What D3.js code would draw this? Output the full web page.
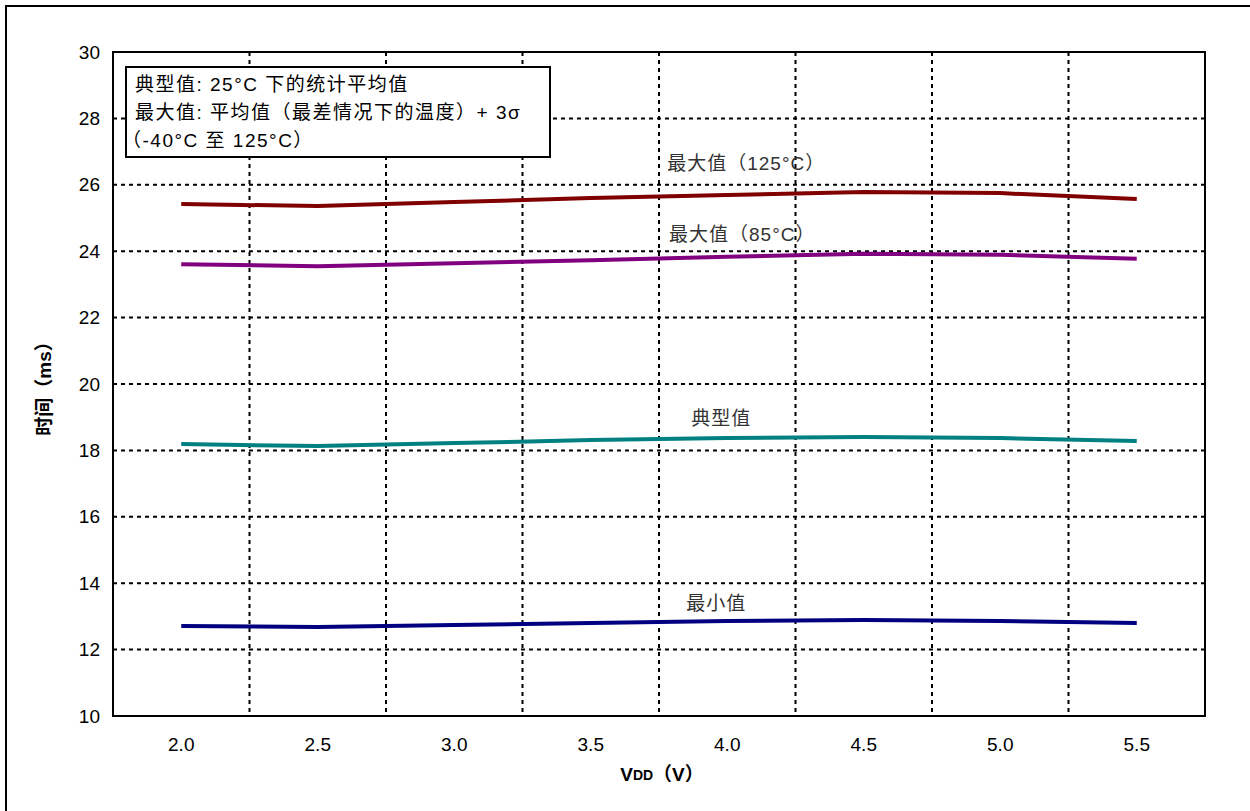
<!DOCTYPE html>
<html><head><meta charset="utf-8">
<script src="https://cdn.jsdelivr.net/npm/d3@7"></script>
<style>
body{margin:0;background:#fff;}
svg{display:block;font-family:"Liberation Sans","Noto Sans CJK SC",sans-serif;}
</style></head>
<body><svg id="c" width="1250" height="811"></svg>
<script>
const categories = ["2.0","2.5","3.0","3.5","4.0","4.5","5.0","5.5"];
const yTicks = [10,12,14,16,18,20,22,24,26,28,30];
const seriesNames = ["最大值（125°C）","最大值（85°C）","典型值","最小值"];
const max125 = [25.42,25.36,25.48,25.60,25.69,25.78,25.75,25.57];
const max85  = [23.61,23.55,23.64,23.73,23.83,23.92,23.89,23.77];
const typical= [18.19,18.13,18.22,18.31,18.37,18.40,18.37,18.28];
const minimum= [12.71,12.68,12.74,12.80,12.86,12.89,12.86,12.80];
const colors = ["#800000","#800080","#008080","#000080"];
const noteLines = ["典型值: 25°C 下的统计平均值","最大值: 平均值（最差情况下的温度）+ 3σ","（-40°C 至 125°C）"];

const svg = d3.select("#c");
const L=113, R=1205, T=52, B=716;
const x = d3.scaleBand().domain(categories).range([L,R]);
const y = d3.scaleLinear().domain([10,30]).range([B,T]);

// outer frame
svg.append("path").attr("d","M6,830 V6 H1260").attr("fill","none").attr("stroke","#000").attr("stroke-width",2);

// grid
const grid = svg.append("g");
grid.selectAll("line.h").data(yTicks.filter(v=>v>10&&v<30)).join("line")
  .attr("x1",L).attr("x2",R).attr("y1",d=>y(d)).attr("y2",d=>y(d))
  .attr("stroke","#000").attr("stroke-width",2).attr("stroke-dasharray","4,4");
grid.selectAll("line.v").data(categories.slice(1)).join("line")
  .attr("x1",d=>x(d)).attr("x2",d=>x(d)).attr("y1",T).attr("y2",B)
  .attr("stroke","#000").attr("stroke-width",2).attr("stroke-dasharray","4,4");

// axes
const yAxis = d3.axisLeft(y).tickValues(yTicks).tickSize(0).tickPadding(13);
const gy = svg.append("g").attr("transform",`translate(${L},0)`).call(yAxis);
gy.select(".domain").remove();
gy.selectAll("text").attr("font-size",19).attr("fill","#000").attr("font-family","Liberation Sans, sans-serif");
const xAxis = d3.axisBottom(x).tickSize(0).tickPadding(22);
const gx = svg.append("g").attr("transform",`translate(0,${B})`).call(xAxis);
gx.select(".domain").remove();
gx.selectAll("text").attr("font-size",19).attr("fill","#000").attr("font-family","Liberation Sans, sans-serif");

// series lines
const data = [max125,max85,typical,minimum];
const line = d3.line().x((d,i)=>x(categories[i])+x.bandwidth()/2).y(d=>y(d));
svg.append("g").selectAll("path").data(data).join("path")
  .attr("d",line).attr("fill","none").attr("stroke",(d,i)=>colors[i]).attr("stroke-width",4);

// plot border
svg.append("rect").attr("x",L).attr("y",T).attr("width",R-L).attr("height",B-T)
  .attr("fill","none").attr("stroke","#000").attr("stroke-width",2);

// series labels
const labelPos = [["4.0",19,26.6],["4.0",15,24.46],["4.0",-6,18.92],["4.0",-11,13.34]];
svg.append("g").selectAll("text").data(seriesNames).join("text")
  .attr("x",(d,i)=>x(labelPos[i][0])+x.bandwidth()/2+labelPos[i][1])
  .attr("y",(d,i)=>y(labelPos[i][2]))
  .attr("text-anchor","middle").attr("dominant-baseline","middle")
  .attr("font-size",19).attr("letter-spacing",1).attr("fill","#333").text(d=>d);

// note box
svg.append("rect").attr("x",126).attr("y",67).attr("width",424).attr("height",90)
  .attr("fill","#fff").attr("stroke","#000").attr("stroke-width",2);
svg.append("g").selectAll("text").data(noteLines).join("text")
  .attr("x",(d,i)=>i==2?122:135).attr("y",(d,i)=>86+i*28)
  .attr("dominant-baseline","middle").attr("font-size",19).attr("letter-spacing",1.5)
  .attr("fill","#000").text(d=>d);

// axis titles
svg.append("text").attr("transform","translate(46,384) rotate(-90)")
  .attr("text-anchor","middle").attr("dominant-baseline","middle")
  .attr("font-size",19).attr("font-weight","bold").text("时间（ms）");
const xt = svg.append("text").attr("x",662).attr("y",776).attr("text-anchor","middle")
  .attr("dominant-baseline","middle").attr("font-weight","bold").attr("font-size",19);
xt.append("tspan").text("V");
xt.append("tspan").attr("font-size",14).text("DD");
xt.append("tspan").text("（V）");
</script></body></html>
